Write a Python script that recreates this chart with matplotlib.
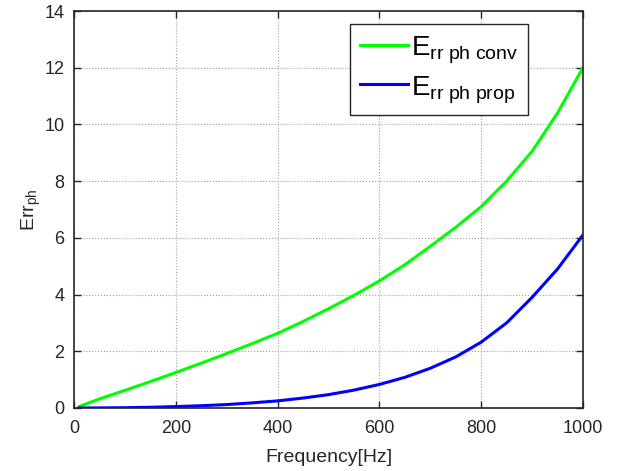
import numpy as np
import matplotlib
matplotlib.use('Agg')
import matplotlib.pyplot as plt

# values
freq = [10, 50, 100, 150, 200, 250, 300, 350, 400, 450, 500,
        550, 600, 650, 700, 750, 800, 850, 900, 950, 1000]
err_conv = [0.05, 0.32, 0.62, 0.93, 1.25, 1.58, 1.92, 2.27, 2.63, 3.05, 3.5,
            3.97, 4.48, 5.05, 5.7, 6.37, 7.1, 8.0, 9.05, 10.4, 12.0]
err_prop = [0.0, 0.003, 0.01, 0.025, 0.05, 0.08, 0.12, 0.18, 0.25, 0.35, 0.47,
            0.63, 0.83, 1.08, 1.4, 1.8, 2.32, 3.0, 3.9, 4.9, 6.1]

plt.rcParams['font.family'] = ['Liberation Sans', 'DejaVu Sans']
plt.rcParams['mathtext.fontset'] = 'custom'
plt.rcParams['mathtext.rm'] = 'Liberation Sans'
plt.rcParams['mathtext.it'] = 'Liberation Sans'

dark = '#262626'

fig = plt.figure(figsize=(6.35, 4.71), dpi=100)
ax = fig.add_axes([0.1165, 0.1338, 0.8015, 0.8428])

ax.plot(freq, err_conv, color='#00ff00', lw=2.2,
        label=r'$\mathregular{E_{rr\ ph\ conv}}$')
ax.plot(freq, err_prop, color='#0000ff', lw=2.2,
        label=r'$\mathregular{E_{rr\ ph\ prop}}$')

ax.set_xlim(0, 1000)
ax.set_ylim(0, 14)
ax.set_xticks(np.arange(0, 1001, 200))
ax.set_yticks(np.arange(0, 15, 2))
ax.grid(True, linestyle=':', color='#a0a0a0', lw=0.8)

ax.tick_params(direction='in', top=True, right=True, length=5,
               width=1, colors=dark, labelsize=13)
ax.tick_params(axis='x', pad=9)
ax.tick_params(axis='y', pad=7)
for s in ax.spines.values():
    s.set_color(dark)
    s.set_linewidth(1.2)

ax.set_xlabel('Frequency[Hz]', fontsize=14, color=dark, labelpad=8)
ax.set_ylabel(r'$\mathregular{Err_{ph}}$', fontsize=14, color=dark, labelpad=0.5)

leg = ax.legend(loc='upper right', bbox_to_anchor=(0.892, 0.967),
                borderaxespad=0, fontsize=20, fancybox=False, framealpha=1,
                edgecolor=dark, handlelength=1.75, handleheight=1.0,
                borderpad=0.35, labelspacing=0.25, handletextpad=0.1)
leg.get_frame().set_linewidth(1)

fig.savefig('out.png', dpi=100)
